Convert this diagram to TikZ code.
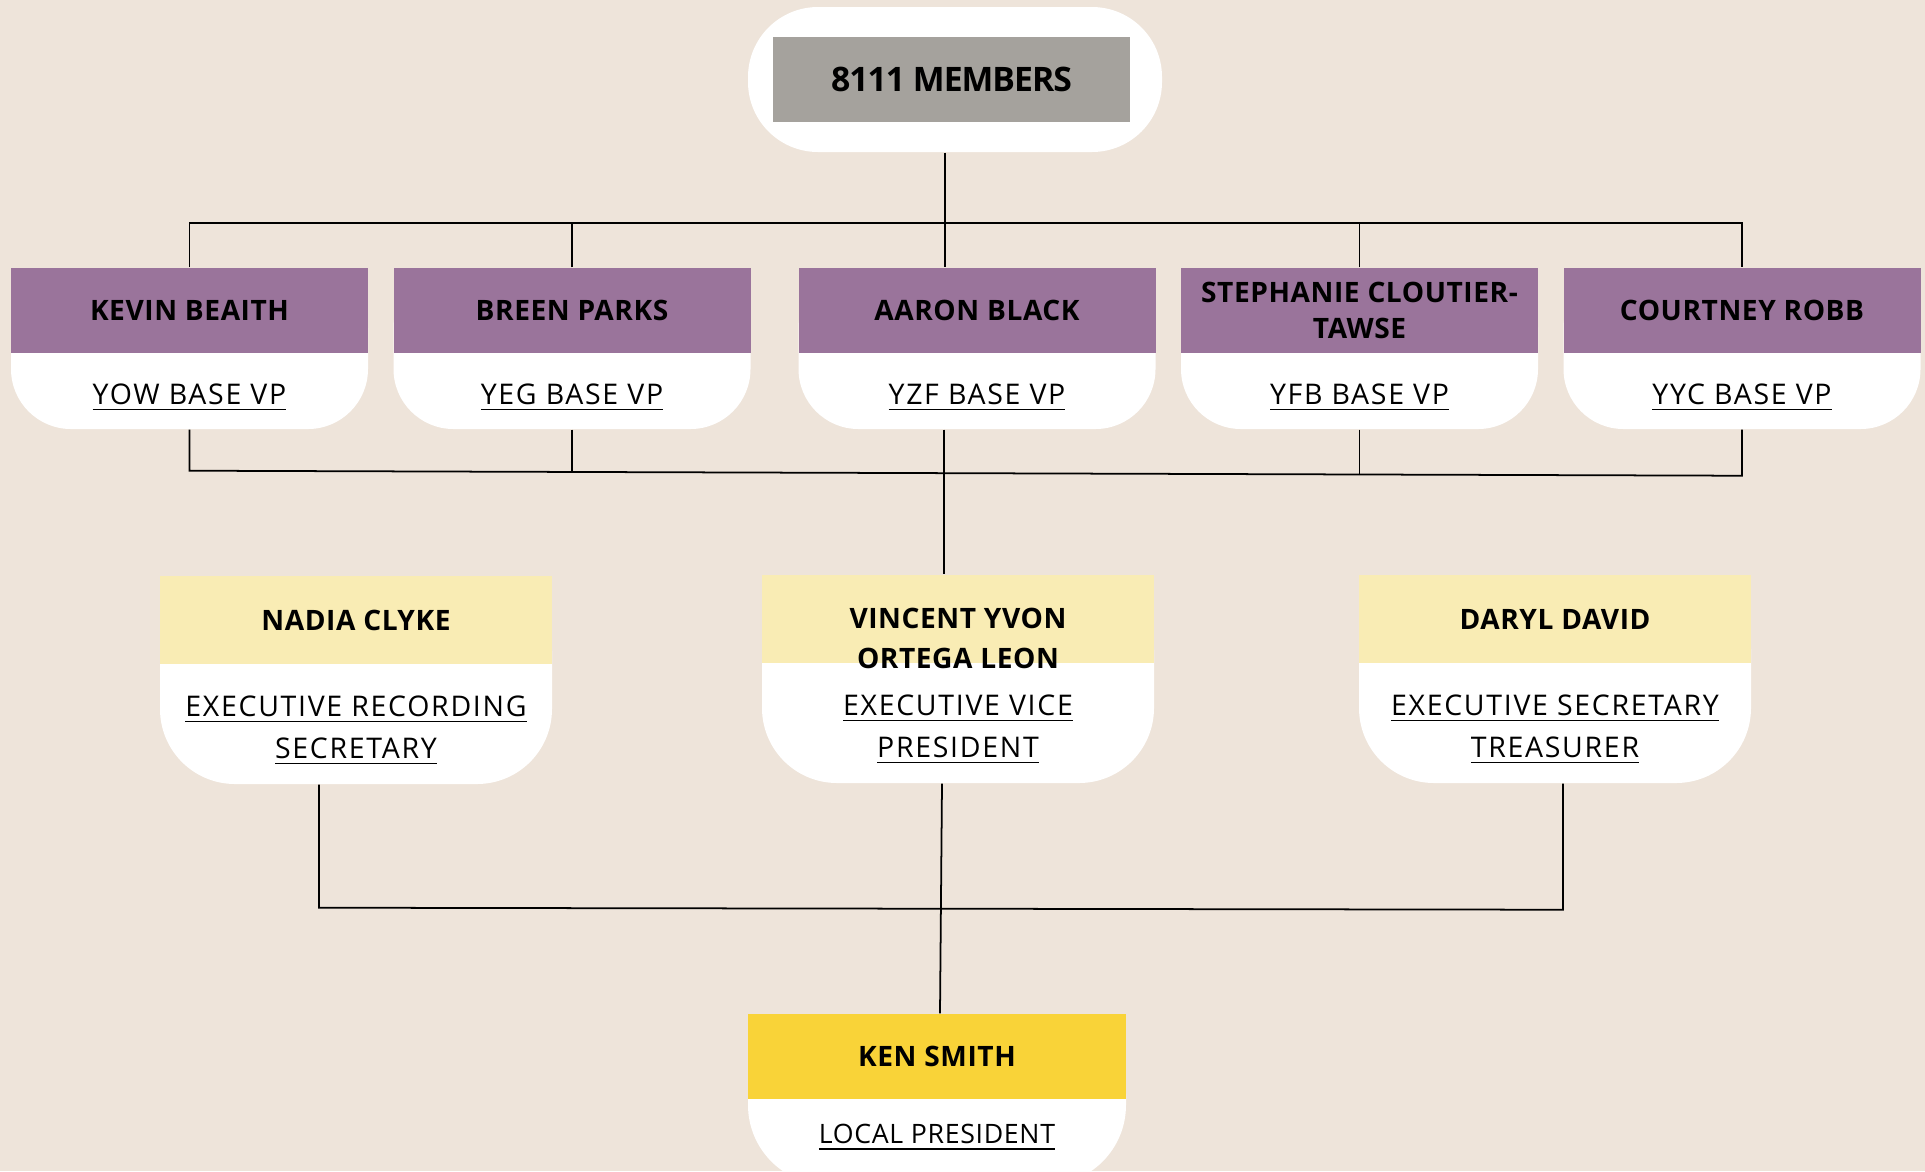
\documentclass[tikz,border=0pt]{standalone}
\usepackage{fontspec}
\setmainfont{Open Sans}
\usetikzlibrary{positioning}

\definecolor{bgbeige}{RGB}{238,228,218}
\definecolor{vppurple}{RGB}{154,116,155}
\definecolor{membergray}{RGB}{165,162,157}
\definecolor{execyellow}{RGB}{249,236,180}
\definecolor{presgold}{RGB}{249,211,56}

\newcommand{\namefont}{\bfseries\fontsize{8}{10}\selectfont\addfontfeature{LetterSpace=2}}
\newcommand{\rolefont}{\fontsize{8.1}{12}\selectfont\addfontfeature{LetterSpace=6}}

\tikzset{
  link/.style={draw=black, line width=0.5pt},
  vpcard/.style={fill=white, rounded corners=0.6cm, inner sep=0pt, minimum width=3.57cm, minimum height=1.61cm},
  vpband/.style={fill=vppurple, inner sep=0pt, anchor=north, minimum width=3.57cm, minimum height=0.85cm, font=\namefont, align=center},
  execcard/.style={fill=white, rounded corners=0.75cm, inner sep=0pt, minimum width=3.92cm, minimum height=2.08cm},
  execband/.style={fill=execyellow, inner sep=0pt, anchor=north, minimum width=3.92cm, minimum height=0.88cm, font=\namefont, align=center},
  role/.style={inner sep=0pt, font=\rolefont, align=center}
}

\begin{document}
\begin{tikzpicture}
  \path[use as bounding box, fill=bgbeige] (0,0) rectangle (19.25,-11.71);
  \clip (0,0) rectangle (19.25,-11.71);

  % members
  \node (topcard) [fill=white, rounded corners=0.7cm, minimum width=4.14cm, minimum height=1.45cm] at (9.55,-0.795) {};
  \node (top) [fill=membergray, inner sep=0pt, minimum width=3.57cm, minimum height=0.85cm, font=\bfseries\fontsize{9.6}{12}\selectfont\addfontfeature{LetterSpace=-3}] at ([xshift=-0.35mm]topcard.center) {8111 MEMBERS};

  % base VPs
  \node (yowcard) [vpcard] at (1.895,-3.485) {};
  \node (kevin) [vpband] at (yowcard.north) {KEVIN BEAITH};
  \node (yow) [role, below=0.29cm of kevin] {\underline{YOW BASE VP}};

  \node (yegcard) [vpcard] at (5.72,-3.485) {};
  \node (breen) [vpband] at (yegcard.north) {BREEN PARKS};
  \node (yeg) [role, below=0.29cm of breen] {\underline{YEG BASE VP}};

  \node (yzfcard) [vpcard] at (9.77,-3.485) {};
  \node (aaron) [vpband] at (yzfcard.north) {AARON BLACK};
  \node (yzf) [role, below=0.29cm of aaron] {\underline{YZF BASE VP}};

  \node (yfbcard) [vpcard] at (13.595,-3.485) {};
  \node (stephanie) [vpband] at (yfbcard.north) {STEPHANIE CLOUTIER-\\TAWSE};
  \node (yfb) [role, below=0.29cm of stephanie] {\underline{YFB BASE VP}};

  \node (yyccard) [vpcard] at (17.42,-3.485) {};
  \node (courtney) [vpband] at (yyccard.north) {COURTNEY ROBB};
  \node (yyc) [role, below=0.29cm of courtney] {\underline{YYC BASE VP}};

  % executive
  \node (nadiacard) [execcard] at (3.56,-6.80) {};
  \node (nadia) [execband] at (nadiacard.north) {NADIA CLYKE};
  \node (recsec) [role, below=0.30cm of nadia] {\underline{EXECUTIVE RECORDING}\\\underline{SECRETARY}};

  \node (vincentcard) [execcard] at (9.58,-6.79) {};
  \node (vincent) [execband] at (vincentcard.north) {};
  \node (vincentname) [inner sep=0pt, font=\namefont, align=center, below=0.33cm of vincent.north] {VINCENT YVON\\[1.4pt]ORTEGA LEON};
  \node (evp) [role, below=0.30cm of vincent] {\underline{EXECUTIVE VICE}\\\underline{PRESIDENT}};

  \node (darylcard) [execcard] at (15.55,-6.79) {};
  \node (daryl) [execband] at (darylcard.north) {DARYL DAVID};
  \node (sectreas) [role, below=0.30cm of daryl] {\underline{EXECUTIVE SECRETARY}\\\underline{TREASURER}};

  % president
  \node (kencard) [fill=white, rounded corners=0.8cm, inner sep=0pt, minimum width=3.78cm, minimum height=1.71cm] at (9.37,-10.995) {};
  \node (ken) [fill=presgold, inner sep=0pt, anchor=north, minimum width=3.78cm, minimum height=0.85cm, font=\namefont] at (kencard.north) {KEN SMITH};
  \node (local) [role, font=\fontsize{7.6}{12}\selectfont\addfontfeature{LetterSpace=2.5}, below=0.24cm of ken] {\underline{LOCAL PRESIDENT}};

  % links, top
  \coordinate (topbus) at (0,-2.23);
  \draw[link] ([xshift=-1mm]topcard.south) -- ([xshift=-1mm]topcard.south |- aaron.north);
  \draw[link] (kevin.north) -- (kevin.north |- topbus) -- (courtney.north |- topbus) -- (courtney.north);
  \draw[link] (breen.north) -- (breen.north |- topbus);
  \draw[link] (stephanie.north) -- (stephanie.north |- topbus);

  % links, base VPs to executive
  \draw[link] (yowcard.south) -- ++(0,-0.41) -- ([yshift=-0.46cm]yyccard.south) -- (yyccard.south);
  \draw[link] (yegcard.south) -- ++(0,-0.42);
  \draw[link] (yfbcard.south) -- ++(0,-0.45);
  \draw[link] ([xshift=-3.3mm]yzfcard.south) -- ([xshift=-3.3mm]yzfcard.south |- vincent.north);

  % links, executive to president
  \draw[link] ([xshift=-3.7mm]nadiacard.south) -- ++(0,-1.23) -- ([xshift=0.8mm,yshift=-1.26cm]darylcard.south) -- ([xshift=0.8mm]darylcard.south);
  \draw[link] ([xshift=-1.6mm]vincentcard.south) -- ([xshift=0.3mm]ken.north);
\end{tikzpicture}
\end{document}
